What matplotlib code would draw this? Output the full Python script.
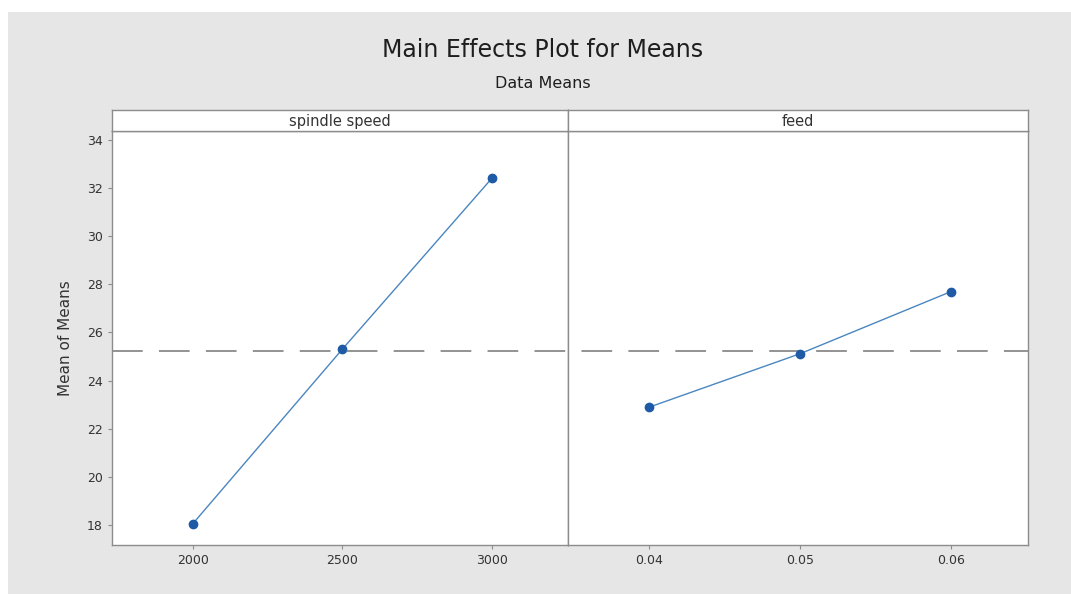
"""Main effects plot for means (Minitab style), two panels sharing the y axis."""
import matplotlib
matplotlib.use('Agg')
import matplotlib.pyplot as plt
from matplotlib.patches import Rectangle

factors = ['spindle speed', 'feed']
spindle_levels = ['2000', '2500', '3000']
spindle_means = [18.05, 25.30, 32.40]
feed_levels = ['0.04', '0.05', '0.06']
feed_means = [22.90, 25.12, 27.70]
grand_mean = 25.24

W, H = 1071, 594
fig = plt.figure(figsize=(W / 100, H / 100), dpi=100)
fig.patch.set_facecolor('#e6e6e6')

# white margin at the top / left like the scanned page
fig.patches.append(Rectangle((0, 1 - 12 / H), 1, 12 / H, transform=fig.transFigure,
                             facecolor='white', edgecolor='none', zorder=0))
fig.patches.append(Rectangle((0, 0), 8 / W, 1, transform=fig.transFigure,
                             facecolor='white', edgecolor='none', zorder=0))

left, mid, right = 112 / W, 568 / W, 1028 / W
bottom, top, strip_top = 1 - 545 / H, 1 - 131 / H, 1 - 110 / H

edge = '#8c8c8c'
line_c = '#4a86c0'
mark_c = '#1f5aa6'
txt_c = '#333333'

panels = [(spindle_levels, spindle_means), (feed_levels, feed_means)]
bounds = [(left, mid), (mid, right)]
axes = []
for i, ((levels, means), (x0, x1)) in enumerate(zip(panels, bounds)):
    ax = fig.add_axes([x0, bottom, x1 - x0, top - bottom])
    ax.set_facecolor('white')
    xs = range(len(levels))
    ax.plot(xs, means, color=line_c, linewidth=1.0, zorder=3)
    ax.plot(xs, means, 'o', color=mark_c, markersize=6, zorder=4)
    ax.set_xlim(-0.54, 2.51)
    ax.set_ylim(17.17, 34.37)
    ax.set_xticks(list(xs))
    ax.set_xticklabels(levels, fontsize=9, color=txt_c)
    ax.set_yticks(range(18, 35, 2))
    ax.tick_params(colors=edge, labelcolor=txt_c, labelsize=9, length=3, width=0.8)
    for s in ax.spines.values():
        s.set_color(edge)
        s.set_linewidth(1.0)
    if i == 0:
        ax.set_ylabel('Mean of Means', fontsize=11, color=txt_c, labelpad=10)
    else:
        ax.tick_params(axis='y', left=False, labelleft=False)

    strip = fig.add_axes([x0, top, x1 - x0, strip_top - top])
    strip.set_facecolor('white')
    strip.set_xticks([])
    strip.set_yticks([])
    for s in strip.spines.values():
        s.set_color(edge)
        s.set_linewidth(1.0)
    strip.text(0.5, 0.45, factors[i], ha='center', va='center', fontsize=10.5,
               color=txt_c, transform=strip.transAxes)
    axes.append(ax)

# grand mean: one continuous dashed line across both panels
ref = axes[1].axhline(grand_mean, xmin=-(mid - left) / (right - mid), xmax=1,
                      color='#8a8a8a', linestyle=(0, (17, 9)), linewidth=1.3,
                      zorder=5, clip_on=False)
ref.set_zorder(2.5)

fig.text(0.507, 1 - 50 / H, 'Main Effects Plot for Means', ha='center', va='center',
         fontsize=17, color='#1e1e1e', fontweight='medium')
fig.text(0.507, 1 - 83 / H, 'Data Means', ha='center', va='center',
         fontsize=11.5, color='#1e1e1e')

fig.savefig('out.png', dpi=100, facecolor=fig.get_facecolor())
